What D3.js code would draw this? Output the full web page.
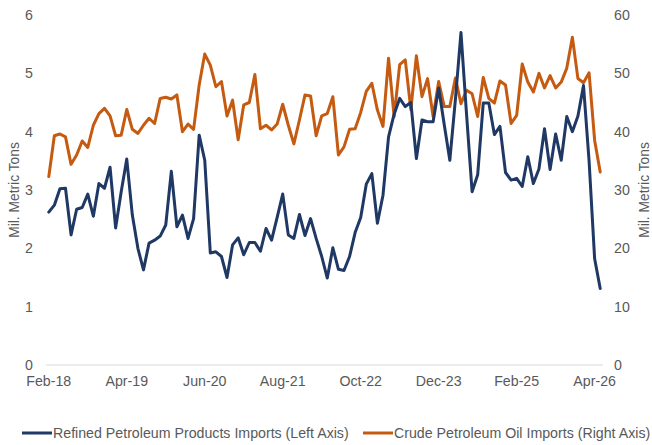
<!DOCTYPE html>
<html>
<head>
<meta charset="utf-8">
<script src="https://cdn.jsdelivr.net/npm/d3@7"></script>
<style>
  html, body { margin: 0; padding: 0; background: #fff; }
  svg { display: block; font-family: "Liberation Sans", Arial, sans-serif; }
</style>
</head>
<body>
<svg id="chart" width="652" height="445"></svg>
<script>
// Monthly categories Feb-2018 .. May-2026 (100 months)
const startMonth = new Date(2018, 1, 1);
const endMonth = new Date(2026, 5, 1);
const months = d3.timeMonth.range(startMonth, endMonth);
const tickLabels = ["Feb-18", "Apr-19", "Jun-20", "Aug-21", "Oct-22", "Dec-23", "Feb-25", "Apr-26"];
const leftTicks = [0, 1, 2, 3, 4, 5, 6];
const rightTicks = [0, 10, 20, 30, 40, 50, 60];

// Refined Petroleum Products Imports (Left Axis, Mil. Metric Tons)
const refined = [
  2.62, 2.74, 3.02, 3.03, 2.23, 2.67, 2.70, 2.93, 2.55, 3.11,
  3.03, 3.39, 2.35, 2.97, 3.53, 2.57, 2.00, 1.63, 2.09, 2.14,
  2.21, 2.40, 3.32, 2.37, 2.57, 2.17, 2.51, 3.94, 3.51, 1.92,
  1.94, 1.86, 1.50, 2.06, 2.18, 1.89, 2.10, 2.10, 1.95, 2.34,
  2.14, 2.53, 2.93, 2.23, 2.17, 2.58, 2.22, 2.51, 2.17, 1.86,
  1.49, 2.01, 1.64, 1.62, 1.86, 2.27, 2.53, 3.10, 3.28, 2.43,
  2.91, 3.91, 4.30, 4.57, 4.43, 4.50, 3.54, 4.20, 4.17, 4.17,
  4.75, 4.12, 3.51, 4.55, 5.70, 4.30, 2.97, 3.26, 4.49, 4.49,
  3.95, 4.09, 3.30, 3.17, 3.20, 3.06, 3.57, 3.11, 3.36, 4.05,
  3.35, 3.96, 3.51, 4.26, 4.00, 4.27, 4.79, 3.50, 1.82, 1.31
];

// Crude Petroleum Oil Imports (Right Axis, Mil. Metric Tons)
const crude = [
  32.3, 39.3, 39.6, 39.1, 34.4, 36.0, 38.4, 37.3, 41.1, 43.1,
  44.0, 42.7, 39.3, 39.4, 43.8, 40.4, 39.7, 41.1, 42.3, 41.4,
  45.7, 45.9, 45.6, 46.3, 40.0, 41.3, 40.4, 48.0, 53.3, 51.4,
  47.7, 48.6, 42.7, 45.4, 38.6, 44.6, 45.0, 49.8, 40.5, 41.1,
  40.3, 41.3, 44.7, 41.1, 37.9, 42.0, 46.3, 46.1, 39.3, 42.7,
  43.1, 46.0, 36.0, 37.4, 40.4, 40.5, 43.3, 46.9, 48.3, 43.7,
  40.9, 52.6, 42.6, 51.5, 52.3, 43.8, 53.0, 46.0, 49.1, 42.6,
  48.6, 44.3, 44.3, 49.2, 44.8, 47.1, 46.5, 42.6, 49.3, 45.7,
  44.9, 48.7, 48.0, 41.4, 42.8, 51.6, 48.5, 46.8, 50.0, 47.5,
  49.6, 47.5, 48.5, 50.9, 56.2, 49.1, 48.4, 50.1, 38.5, 33.1
];

const seriesNames = [
  "Refined Petroleum Products Imports (Left Axis)",
  "Crude Petroleum Oil Imports (Right Axis)"
];
const colors = ["#1f3864", "#c55a11"];
const axisTitle = "Mil. Metric Tons";

const svg = d3.select("#chart");
const textColor = "#595959";
const fs = 14.2;

const plot = { left: 46, right: 603, top: 15, bottom: 365 };

const fmt = d3.timeFormat("%b-%y");
const cats = months.map(fmt);

const x = d3.scaleBand().domain(cats).range([plot.left, plot.right]).paddingInner(0).paddingOuter(0);
const cx = d => x(d) + x.bandwidth() / 2;

const yL = d3.scaleLinear().domain([0, 6]).range([plot.bottom, plot.top]);
const yR = d3.scaleLinear().domain([0, 60]).range([plot.bottom, plot.top]);

// X axis baseline
svg.append("line")
  .attr("x1", plot.left).attr("x2", plot.right)
  .attr("y1", plot.bottom).attr("y2", plot.bottom)
  .attr("stroke", "#d9d9d9").attr("stroke-width", 1);

// X tick labels
svg.append("g").selectAll("text")
  .data(tickLabels)
  .join("text")
  .attr("x", d => cx(d))
  .attr("y", plot.bottom + 21)
  .attr("text-anchor", "middle")
  .attr("font-size", fs)
  .attr("fill", textColor)
  .text(d => d);

// Left axis labels
svg.append("g").selectAll("text")
  .data(leftTicks)
  .join("text")
  .attr("x", 33)
  .attr("y", d => yL(d) + 5)
  .attr("text-anchor", "end")
  .attr("font-size", fs)
  .attr("fill", textColor)
  .text(d => d);

// Right axis labels
svg.append("g").selectAll("text")
  .data(rightTicks)
  .join("text")
  .attr("x", 614)
  .attr("y", d => yR(d) + 5)
  .attr("text-anchor", "start")
  .attr("font-size", fs)
  .attr("fill", textColor)
  .text(d => d);

// Axis titles
svg.append("text")
  .attr("transform", `translate(19,${(plot.top + plot.bottom) / 2}) rotate(-90)`)
  .attr("text-anchor", "middle")
  .attr("font-size", 13.8)
  .attr("fill", textColor)
  .text(axisTitle);

svg.append("text")
  .attr("transform", `translate(649,${(plot.top + plot.bottom) / 2}) rotate(-90)`)
  .attr("text-anchor", "middle")
  .attr("font-size", 13.8)
  .attr("fill", textColor)
  .text(axisTitle);

// Lines
const lineL = d3.line().x((d, i) => cx(cats[i])).y(d => yL(d));
const lineR = d3.line().x((d, i) => cx(cats[i])).y(d => yR(d));

svg.append("path")
  .datum(crude)
  .attr("d", lineR)
  .attr("fill", "none")
  .attr("stroke", colors[1])
  .attr("stroke-width", 3)
  .attr("stroke-linejoin", "round")
  .attr("stroke-linecap", "round");

svg.append("path")
  .datum(refined)
  .attr("d", lineL)
  .attr("fill", "none")
  .attr("stroke", colors[0])
  .attr("stroke-width", 3)
  .attr("stroke-linejoin", "round")
  .attr("stroke-linecap", "round");

// Legend
const legendY = 433;
const legendItems = [
  { x: 22, name: seriesNames[0], color: colors[0] },
  { x: 363, name: seriesNames[1], color: colors[1] }
];
const lg = svg.append("g").selectAll("g").data(legendItems).join("g")
  .attr("transform", d => `translate(${d.x},${legendY})`);
lg.append("line")
  .attr("x1", 0).attr("x2", 30).attr("y1", 0).attr("y2", 0)
  .attr("stroke", d => d.color).attr("stroke-width", 3);
lg.append("text")
  .attr("x", 31).attr("y", 5)
  .attr("font-size", fs)
  .attr("fill", textColor)
  .text(d => d.name);
</script>
</body>
</html>
